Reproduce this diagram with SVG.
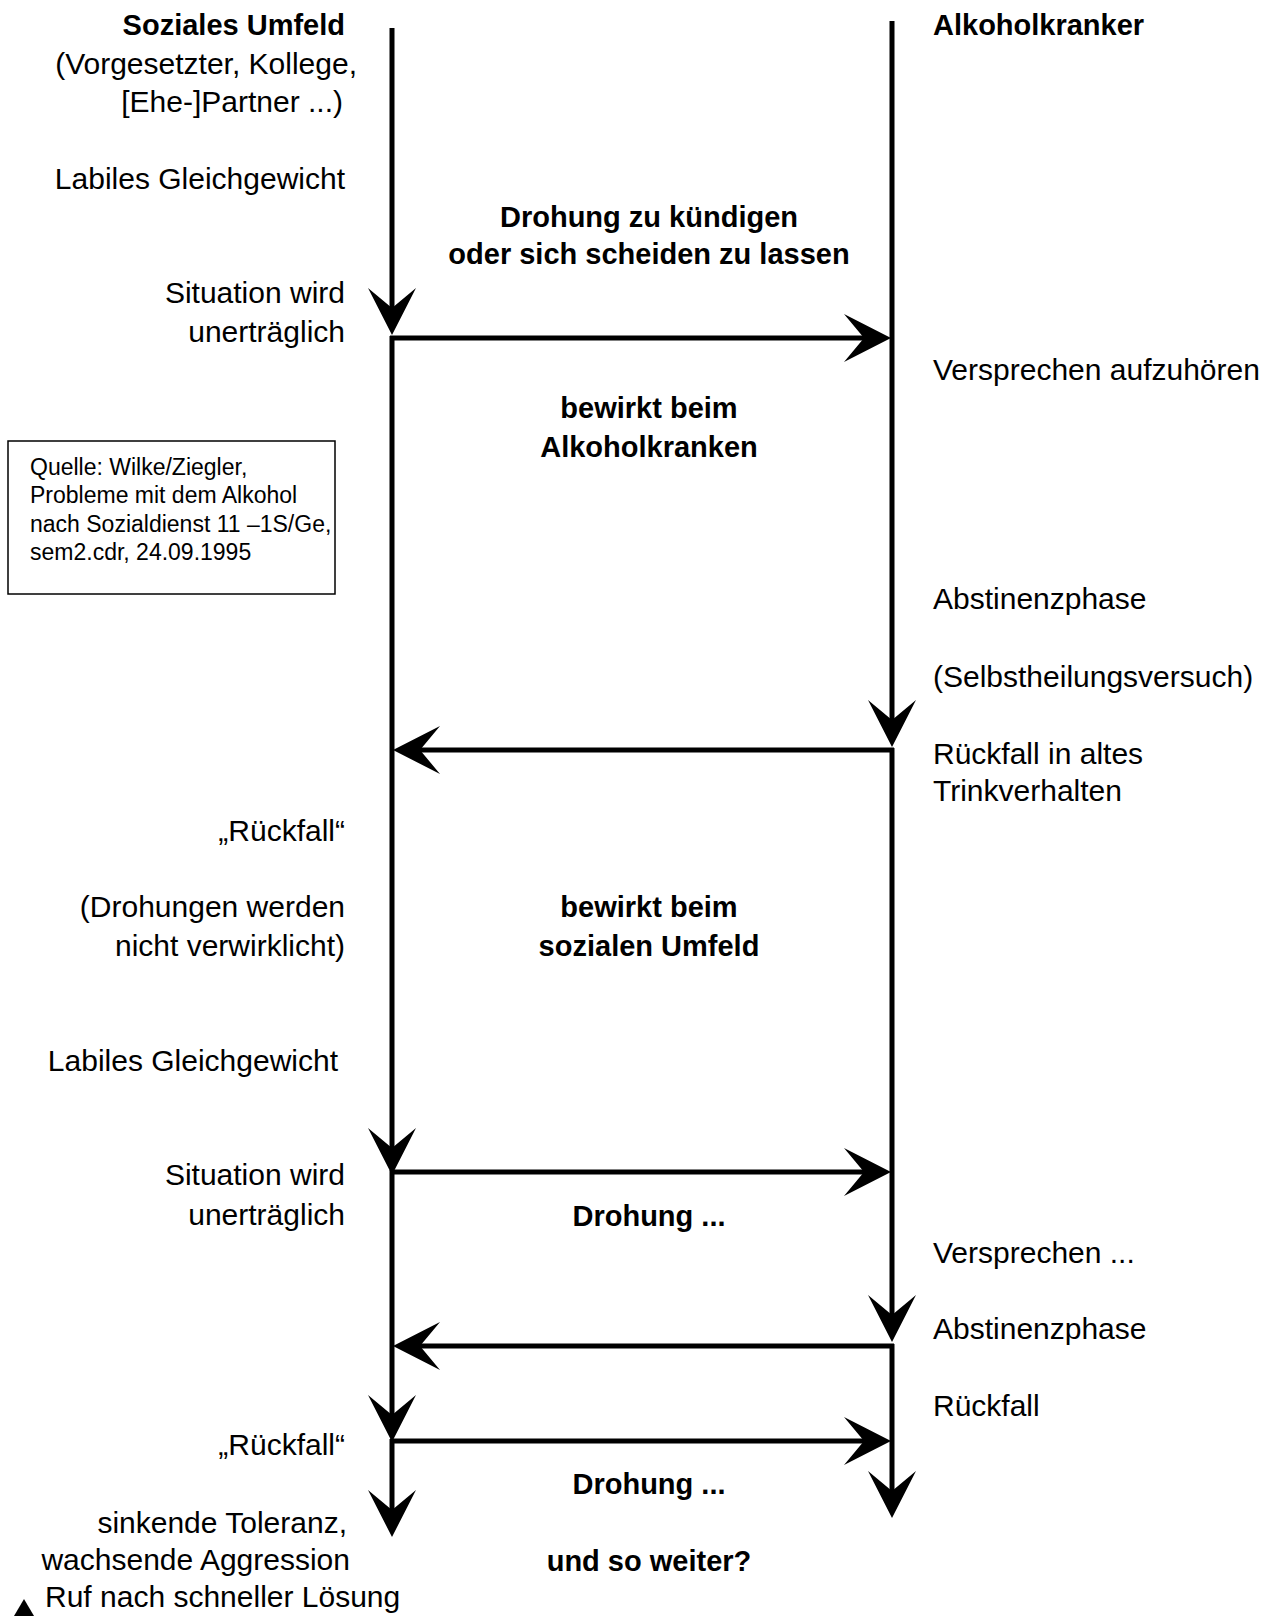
<svg xmlns="http://www.w3.org/2000/svg" xmlns:xlink="http://www.w3.org/1999/xlink" width="1272" height="1616" viewBox="0 0 1272 1616">
<style>
  text { font-family: "Liberation Sans", Arial, sans-serif; fill: #000; }
  .t { font-size: 30px; }
  .b { font-size: 29px; font-weight: bold; }
  .l { text-anchor: end; }
  .c { text-anchor: middle; }
  .s { font-size: 23px; }
  .ln { stroke: #000; stroke-width: 5; fill: none; }
</style>
<defs>
  <path id="ah" d="M0,0 L-47,-24 L-27,0 L-47,24 Z" fill="#000"/>
</defs>
<rect width="1272" height="1616" fill="#fff"/>

<g id="connectors">
  <line class="ln" x1="392" y1="28" x2="392" y2="312"/>
  <use xlink:href="#ah" transform="translate(392,335) rotate(90)"/>
  <line class="ln" x1="392" y1="336" x2="392" y2="1152"/>
  <use xlink:href="#ah" transform="translate(392,1175) rotate(90)"/>
  <line class="ln" x1="392" y1="1170" x2="392" y2="1419"/>
  <use xlink:href="#ah" transform="translate(392,1442) rotate(90)"/>
  <line class="ln" x1="392" y1="1439" x2="392" y2="1514"/>
  <use xlink:href="#ah" transform="translate(392,1537) rotate(90)"/>

  <line class="ln" x1="892" y1="21" x2="892" y2="724"/>
  <use xlink:href="#ah" transform="translate(892,747) rotate(90)"/>
  <line class="ln" x1="892" y1="748" x2="892" y2="1319"/>
  <use xlink:href="#ah" transform="translate(892,1342) rotate(90)"/>
  <line class="ln" x1="892" y1="1344" x2="892" y2="1495"/>
  <use xlink:href="#ah" transform="translate(892,1518) rotate(90)"/>

  <line class="ln" x1="390" y1="338" x2="866" y2="338"/>
  <use xlink:href="#ah" transform="translate(891,338)"/>
  <line class="ln" x1="894" y1="750" x2="418" y2="750"/>
  <use xlink:href="#ah" transform="translate(393,750) rotate(180)"/>
  <line class="ln" x1="390" y1="1172" x2="866" y2="1172"/>
  <use xlink:href="#ah" transform="translate(891,1172)"/>
  <line class="ln" x1="894" y1="1346" x2="418" y2="1346"/>
  <use xlink:href="#ah" transform="translate(393,1346) rotate(180)"/>
  <line class="ln" x1="390" y1="1441" x2="866" y2="1441"/>
  <use xlink:href="#ah" transform="translate(891,1441)"/>

  <polygon points="24,1599 14,1616 34,1616" fill="#000"/>
</g>

<g id="node-soziales-umfeld">
  <text class="b l" x="345" y="35">Soziales Umfeld</text>
  <text class="t l" x="357" y="74">(Vorgesetzter, Kollege,</text>
  <text class="t l" x="343" y="112">[Ehe-]Partner ...)</text>
</g>
<g id="node-alkoholkranker">
  <text class="b" x="933" y="35">Alkoholkranker</text>
</g>
<g id="node-labil1"><text class="t l" x="345" y="189">Labiles Gleichgewicht</text></g>
<g id="node-drohung1">
  <text class="b c" x="649" y="227">Drohung zu kündigen</text>
  <text class="b c" x="649" y="264">oder sich scheiden zu lassen</text>
</g>
<g id="node-situation1">
  <text class="t l" x="345" y="303">Situation wird</text>
  <text class="t l" x="345" y="342">unerträglich</text>
</g>
<g id="node-versprechen1"><text class="t" x="933" y="380">Versprechen aufzuhören</text></g>
<g id="node-bewirkt1">
  <text class="b c" x="649" y="418">bewirkt beim</text>
  <text class="b c" x="649" y="457">Alkoholkranken</text>
</g>
<g id="node-quelle">
  <rect x="8" y="441" width="327" height="153" fill="none" stroke="#000" stroke-width="1.5"/>
  <text class="s" x="30" y="475">Quelle: Wilke/Ziegler,</text>
  <text class="s" x="30" y="503">Probleme mit dem Alkohol</text>
  <text class="s" x="30" y="532">nach Sozialdienst 11 –1S/Ge,</text>
  <text class="s" x="30" y="560">sem2.cdr, 24.09.1995</text>
</g>
<g id="node-abstinenz1">
  <text class="t" x="933" y="609">Abstinenzphase</text>
  <text class="t" x="933" y="687">(Selbstheilungsversuch)</text>
</g>
<g id="node-rueckfall-alt">
  <text class="t" x="933" y="764">Rückfall in altes</text>
  <text class="t" x="933" y="801">Trinkverhalten</text>
</g>
<g id="node-rueckfall-q1"><text class="t l" x="345" y="841">„Rückfall“</text></g>
<g id="node-drohungen-nicht">
  <text class="t l" x="345" y="917">(Drohungen werden</text>
  <text class="t l" x="345" y="956">nicht verwirklicht)</text>
</g>
<g id="node-bewirkt2">
  <text class="b c" x="649" y="917">bewirkt beim</text>
  <text class="b c" x="649" y="956">sozialen Umfeld</text>
</g>
<g id="node-labil2"><text class="t l" x="338" y="1071">Labiles Gleichgewicht</text></g>
<g id="node-situation2">
  <text class="t l" x="345" y="1185">Situation wird</text>
  <text class="t l" x="345" y="1225">unerträglich</text>
</g>
<g id="node-drohung2"><text class="b c" x="649" y="1226">Drohung ...</text></g>
<g id="node-versprechen2"><text class="t" x="933" y="1263">Versprechen ...</text></g>
<g id="node-abstinenz2"><text class="t" x="933" y="1339">Abstinenzphase</text></g>
<g id="node-rueckfall2"><text class="t" x="933" y="1416">Rückfall</text></g>
<g id="node-rueckfall-q2"><text class="t l" x="345" y="1455">„Rückfall“</text></g>
<g id="node-drohung3"><text class="b c" x="649" y="1494">Drohung ...</text></g>
<g id="node-toleranz">
  <text class="t l" x="347" y="1533">sinkende Toleranz,</text>
  <text class="t l" x="350" y="1570">wachsende Aggression</text>
  <text class="t" x="45" y="1607">Ruf nach schneller Lösung</text>
</g>
<g id="node-weiter"><text class="b c" x="649" y="1571">und so weiter?</text></g>
</svg>
